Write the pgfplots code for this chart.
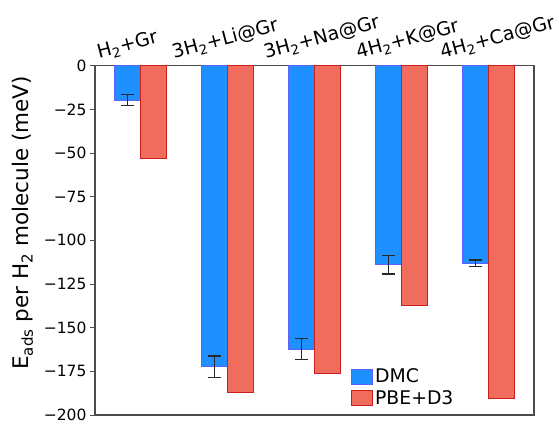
\documentclass[border=0pt]{standalone}
\usepackage{fontspec}
\setmainfont{DejaVu Sans}
\usepackage{pgfplots}
\pgfplotsset{compat=1.18}
\definecolor{dmcfill}{RGB}{30,144,255}
\definecolor{dmcedge}{RGB}{95,95,255}
\definecolor{pbefill}{RGB}{240,108,92}
\definecolor{pbeedge}{RGB}{205,30,30}
\definecolor{axisgray}{RGB}{75,75,75}
\definecolor{errgray}{RGB}{40,40,40}
\begin{document}
\begin{tikzpicture}
\useasboundingbox (0,0) rectangle (559pt,423pt);
\begin{axis}[
  at={(95pt,8pt)}, anchor=south west,
  scale only axis, width=439pt, height=349.3pt,
  xmin=-0.526, xmax=4.526, ymin=-200, ymax=0,
  clip mode=individual,
  axis line style={axisgray, line width=1.2pt},
  ytick={-200,-175,...,0},
  yticklabels={−200,−175,−150,−125,−100,−75,−50,−25,0},
  yticklabel style={font=\fontsize{15.5}{18}\selectfont},
  ytick style={axisgray, line width=1pt},
  major tick length=5pt,
  tick align=outside,
  ytick pos=left,
  xtick=\empty,
  ylabel={E\textsubscript{ads} per H\textsubscript{2} molecule (meV)},
  ylabel style={at={(axis description cs:-0.189,0.55)}, anchor=north, inner sep=0pt, font=\fontsize{21.5}{24}\selectfont},
  ybar,
  legend style={draw=none, fill=none, at={(0.583,0.02)}, anchor=south west, inner sep=0pt, row sep=2pt, font=\fontsize{18.8}{21}\selectfont},
  legend cell align=left,
  legend image code/.code={\draw[#1,/tikz/.cd,bar width=3pt,bar shift=0pt] (0pt,-7.5pt) rectangle (21pt,7.5pt);},
]
\addplot[ybar, bar width=0.3, bar shift=-0.15, fill=dmcfill, draw=dmcedge, line width=1pt,
  error bars/.cd, y dir=both, y explicit,
  error bar style={errgray, line width=1.2pt},
  error mark options={rotate=90, mark size=6.5pt, errgray, line width=1.2pt}]
  coordinates {(0,-19.8) +- (0,3.2) (1,-172.3) +- (0,6.1) (2,-162.4) +- (0,6.0) (3,-114.1) +- (0,5.2) (4,-113.2) +- (0,2.0)};
\addplot[ybar, bar width=0.3, bar shift=0.15, fill=pbefill, draw=pbeedge, line width=1pt]
  coordinates {(0,-53.0) (1,-187.2) (2,-176.1) (3,-137.2) (4,-190.3)};
\legend{DMC, PBE+D3}
\begin{scope}[every node/.style={rotate=15, anchor=south west, inner sep=0pt, xshift=3pt, yshift=2.5pt, font=\fontsize{19}{22}\selectfont}]
\node at (axis cs:-0.495,0) {H\textsubscript{2}+Gr};
\node at (axis cs:0.37,0) {3H\textsubscript{2}+Li@Gr};
\node at (axis cs:1.425,0) {3H\textsubscript{2}+Na@Gr};
\node at (axis cs:2.486,0) {4H\textsubscript{2}+K@Gr};
\node at (axis cs:3.453,0) {4H\textsubscript{2}+Ca@Gr};
\end{scope}
\end{axis}
\end{tikzpicture}
\end{document}
